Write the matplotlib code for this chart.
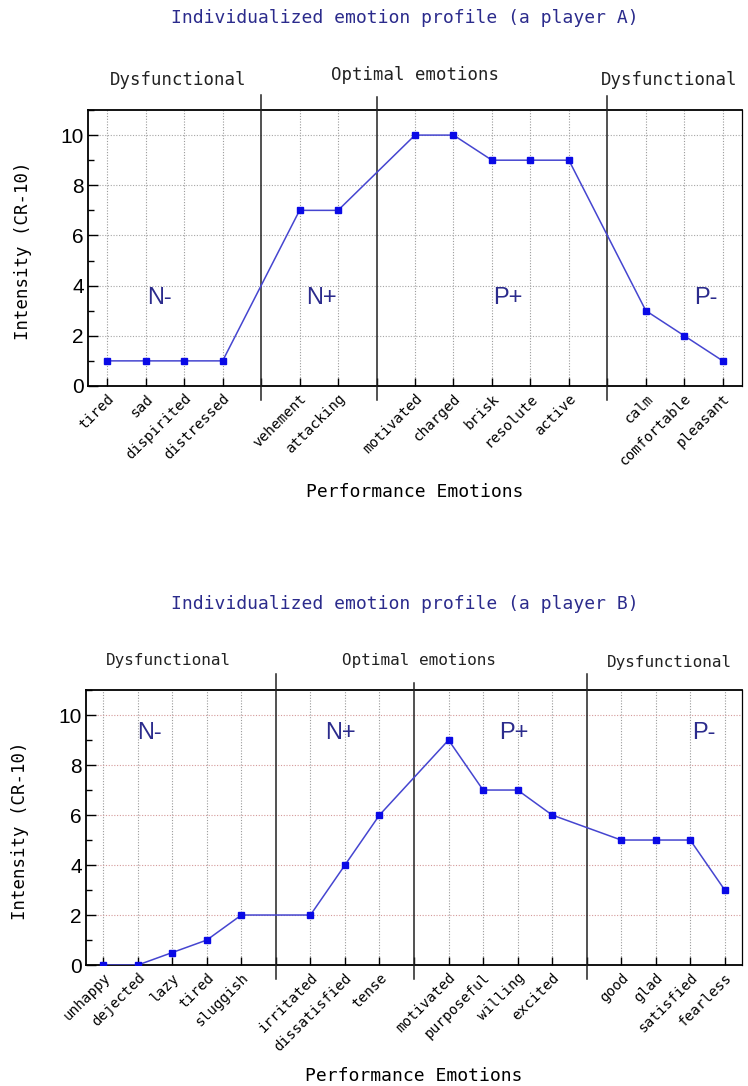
import numpy as np
import matplotlib
matplotlib.use('Agg')
import matplotlib.pyplot as plt
from matplotlib.ticker import MultipleLocator

MONO = 'DejaVu Sans Mono'
SANS = 'Liberation Sans'
NAVY = '#2b2b8c'
LINE_C = '#4545d0'
MARK_C = '#0a0ae6'

# player A
a_groups = [
    ['tired', 'sad', 'dispirited', 'distressed'],
    ['vehement', 'attacking'],
    ['motivated', 'charged', 'brisk', 'resolute', 'active'],
    ['calm', 'comfortable', 'pleasant'],
]
a_values = [1, 1, 1, 1, 7, 7, 10, 10, 9, 9, 9, 3, 2, 1]

# player B
b_groups = [
    ['unhappy', 'dejected', 'lazy', 'tired', 'sluggish'],
    ['irritated', 'dissatisfied', 'tense'],
    ['motivated', 'purposeful', 'willing', 'excited'],
    ['good', 'glad', 'satisfied', 'fearless'],
]
b_values = [0, 0, 0.5, 1, 2, 2, 4, 6, 9, 7, 7, 6, 5, 5, 5, 3]

quadrants = ['N-', 'N+', 'P+', 'P-']
headers = ['Dysfunctional', 'Optimal emotions', 'Dysfunctional']


def layout(groups):
    # one empty slot between groups holds the separator line
    pos, seps, labels = [], [], []
    x = 1
    for i, g in enumerate(groups):
        for name in g:
            pos.append(x)
            labels.append(name)
            x += 1
        if i < len(groups) - 1:
            seps.append(x)
            x += 1
    return np.array(pos), seps, labels, x - 1


def draw(ax, groups, values, hgrid, quad_xy, head_x, head_y, sep_top, hsize, xlab_y):
    pos, seps, labels, n = layout(groups)
    ax.set_xlim(0.5, n + 0.5)
    ax.set_ylim(0, 11)

    for x in range(1, n + 1):
        if x not in seps:
            ax.axvline(x, color='#9a9a9a', lw=0.8, ls=(0, (1, 1.5)), zorder=1)
    for y in range(2, 11, 2):
        ax.axhline(y, color=hgrid, lw=0.8, ls=(0, (1, 1.5)), zorder=1)

    for s, top in zip(seps, sep_top):
        ax.plot([s, s], [-0.55, top], color='#222222', lw=1.1, clip_on=False, zorder=3)

    ax.plot(pos, values, color=LINE_C, lw=1.1, marker='s', ms=4.5,
            mfc=MARK_C, mec=MARK_C, zorder=4)

    ax.set_xticks(range(1, n + 1))
    lab = [''] * n
    for p, l in zip(pos, labels):
        lab[p - 1] = l
    ax.set_xticklabels(lab, rotation=45, ha='right', rotation_mode='anchor',
                       family=MONO, fontsize=10.3)
    ax.tick_params(axis='x', direction='in', length=6, width=1, pad=4)
    ax.set_yticks(range(0, 11, 2))
    ax.yaxis.set_minor_locator(MultipleLocator(1))
    ax.tick_params(axis='y', which='major', direction='in', length=7, width=1,
                   labelsize=15, pad=3)
    ax.tick_params(axis='y', which='minor', direction='in', length=4, width=1)
    for t in ax.get_yticklabels():
        t.set_family(SANS)
    for sp in ['left', 'bottom', 'top']:
        ax.spines[sp].set_linewidth(1.3)
    ax.spines['right'].set_linewidth(0.9)

    for q, (qx, qy) in zip(quadrants, quad_xy):
        ax.text(qx, qy, q, family=SANS, fontsize=17, color=NAVY, ha='center', va='center')
    for h, hx, hy in zip(headers, head_x, head_y):
        ax.text(hx, hy, h, family=MONO, fontsize=hsize, color='#222222',
                ha='center', va='center', clip_on=False)

    ax.set_ylabel('Intensity (CR-10)', family=MONO, fontsize=12.5, va='center')
    ax.yaxis.set_label_coords(-0.1, 0.49)
    ax.set_xlabel('Performance Emotions', family=MONO, fontsize=13, va='center')
    ax.xaxis.set_label_coords(0.5, xlab_y)


fig = plt.figure(figsize=(7.48, 10.86), dpi=100)
ax1 = fig.add_axes([0.1176, 0.6446, 0.8744, 0.2541])
ax2 = fig.add_axes([0.115, 0.1114, 0.877, 0.2532])

draw(ax1, a_groups, a_values, '#a6a6a6',
     [(2.37, 3.5), (6.58, 3.5), (11.4, 3.5), (16.55, 3.5)],
     [2.84, 8.99, 15.6], [12.2, 12.4, 12.2], [11.6, 11.5, 11.55], 12.5, -0.384)
draw(ax2, b_groups, b_values, '#d49a9a',
     [(2.35, 9.3), (7.86, 9.3), (12.9, 9.3), (18.4, 9.3)],
     [2.9, 10.15, 17.4], [12.2, 12.2, 12.1], [11.64, 11.3, 11.64], 11.5, -0.405)

fig.text(0.541, 0.983, 'Individualized emotion profile (a player A)', family=MONO,
         fontsize=13, color=NAVY, ha='center', va='center')
fig.text(0.541, 0.444, 'Individualized emotion profile (a player B)', family=MONO,
         fontsize=13, color=NAVY, ha='center', va='center')

fig.savefig('out.png', dpi=100)
